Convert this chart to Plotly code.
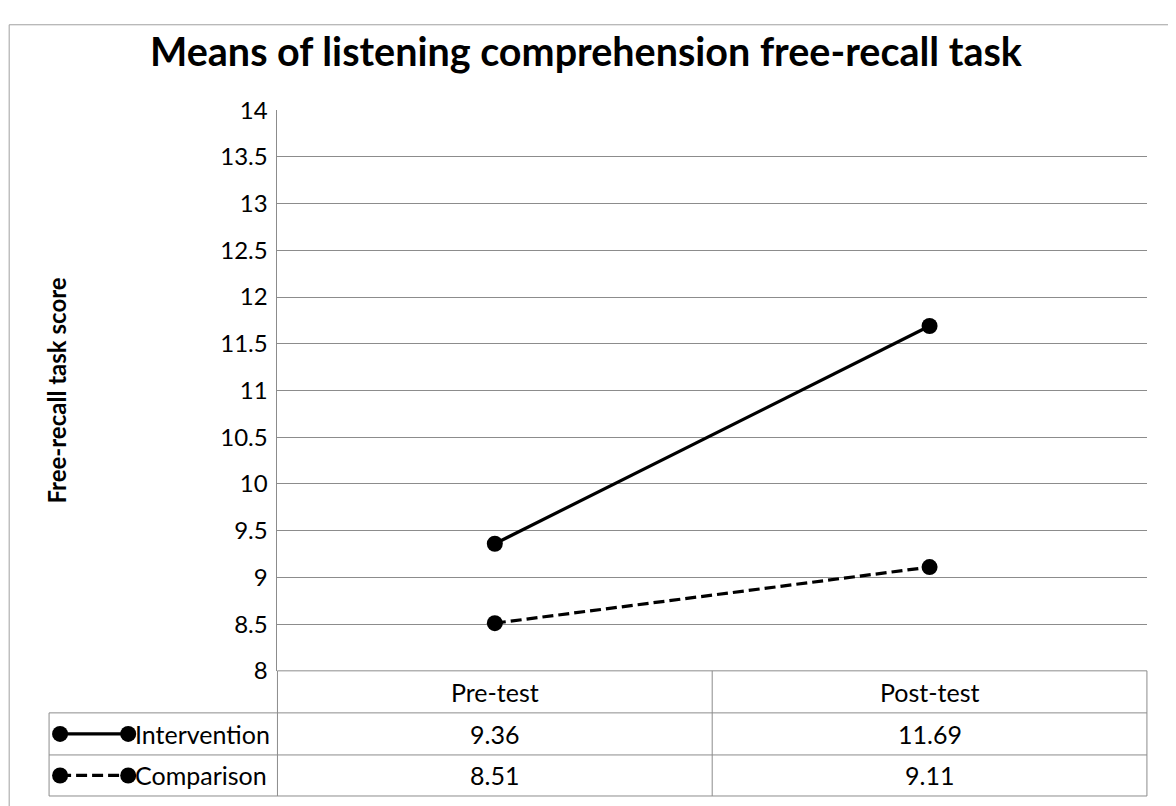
import plotly.graph_objects as go

categories = ["Pre-test", "Post-test"]
series_names = ["Intervention", "Comparison"]
intervention = [9.36, 11.69]
comparison = [8.51, 9.11]
y_ticks = [8, 8.5, 9, 9.5, 10, 10.5, 11, 11.5, 12, 12.5, 13, 13.5, 14]
y_tick_text = ["8", "8.5", "9", "9.5", "10", "10.5", "11", "11.5", "12", "12.5", "13", "13.5", "14"]
title_text = "Means of listening comprehension free-recall task"
y_title = "Free-recall task score"

W, H = 1176, 806
FONT = "Lato"
GRID = "#8c8c8c"

# mapping of target picture pixels to paper fractions (figure as rendered on the page)
OX, OY, EW, EH = 10, 26, 1174, 776

def px(x):
    return (x - OX) / EW

def py(y):
    return 1 - (y - OY) / EH

PL, PR, PT, PB = 279, 1147, 112, 672
ROW1, ROW2, ROW3 = 714, 756, 797
TL = 51
MID = (PL + PR) / 2
DASH = "11px,5px"

fig = go.Figure()
dashes = ["solid", DASH]
for name, vals, dash in zip(series_names, [intervention, comparison], dashes):
    fig.add_trace(go.Scatter(
        x=categories, y=vals, name=name, mode="lines+markers",
        line=dict(color="black", width=3.2, dash=dash),
        marker=dict(symbol="circle", size=16, color="black"),
        showlegend=False, cliponaxis=False,
    ))

# legend keys drawn inside the data table, on a pixel-like overlay axis pair
key_x0, key_x1 = 62, 130
key_rows = [(ROW1 + ROW2) / 2, (ROW2 + ROW3) / 2]
for name, dash, yc in zip(series_names, dashes, key_rows):
    fig.add_trace(go.Scatter(
        x=[key_x0, key_x1], y=[yc, yc], mode="lines+markers", xaxis="x2", yaxis="y2",
        line=dict(color="black", width=3.2, dash=dash),
        marker=dict(symbol="circle", size=16, color="black"),
        showlegend=False, hoverinfo="skip", cliponaxis=False,
    ))

shapes = []
def line(x0, y0, x1, y1, color=GRID, w=1):
    shapes.append(dict(type="line", xref="paper", yref="paper",
                       x0=px(x0), y0=py(y0), x1=px(x1), y1=py(y1),
                       line=dict(color=color, width=w), layer="below"))

# outer chart border
shapes.append(dict(type="rect", xref="paper", yref="paper",
                   x0=0.001, y0=-0.01, x1=px(1169), y1=0.999,
                   line=dict(color="#a0a0a0", width=1), layer="below"))
# table lines
line(PL, PB, PL, ROW3)
line(MID, PB, MID, ROW3)
line(PR, PB, PR, ROW3)
line(TL, ROW1, TL, ROW3)
line(PL, PB, PR, PB)
line(TL, ROW1, PR, ROW1)
line(TL, ROW2, PR, ROW2)
line(TL, ROW3, PR, ROW3)

annotations = []
cell_font = dict(family=FONT, size=25, color="black")
for cat in categories:
    annotations.append(dict(x=cat, xref="x", y=py((PB + ROW1) / 2), yref="paper",
                            text=cat, showarrow=False, font=cell_font,
                            xanchor="center", yanchor="middle"))
for vals, yc in zip([intervention, comparison], key_rows):
    for cat, v in zip(categories, vals):
        annotations.append(dict(x=cat, xref="x", y=py(yc), yref="paper",
                                text=f"{v:.2f}", showarrow=False, font=cell_font,
                                xanchor="center", yanchor="middle"))
for name, yc in zip(series_names, key_rows):
    annotations.append(dict(x=px(key_x1 + 5), xref="paper", y=py(yc), yref="paper",
                            text=name, showarrow=False, font=cell_font,
                            xanchor="left", yanchor="middle"))
annotations.append(dict(x=px(588), y=py(52), xref="paper", yref="paper",
                        text=f"<b>{title_text}</b>", showarrow=False,
                        font=dict(family=FONT, size=39.5, color="black"),
                        xanchor="center", yanchor="middle"))
annotations.append(dict(x=px(58), y=py((PT + PB) / 2), xref="paper", yref="paper",
                        text=f"<b>{y_title}</b>", showarrow=False, textangle=-90,
                        font=dict(family=FONT, size=24, color="black"),
                        xanchor="center", yanchor="middle"))

fig.update_layout(
    width=W, height=H, margin=dict(l=0, r=0, t=0, b=0, pad=0), autosize=False,
    paper_bgcolor="white", plot_bgcolor="rgba(0,0,0,0)",
    xaxis=dict(domain=[px(PL), px(PR)], type="category", range=[-0.5, 1.5],
               showticklabels=False, showgrid=False, zeroline=False, showline=False),
    yaxis=dict(domain=[py(PB), py(PT)], range=[8, 14], tickvals=y_ticks, ticktext=y_tick_text,
               showgrid=True, gridcolor=GRID, gridwidth=1, zeroline=False,
               showline=True, linecolor=GRID, linewidth=1, ticks="", ticklen=0,
               ticklabelstandoff=4,
               tickfont=dict(family=FONT, size=24, color="black")),
    xaxis2=dict(domain=[0, 1], range=[OX, OX + EW], visible=False, anchor="y2"),
    yaxis2=dict(domain=[0, 1], range=[OY + EH, OY], visible=False, anchor="x2"),
    shapes=shapes, annotations=annotations,
)
fig.write_html("out.html")
